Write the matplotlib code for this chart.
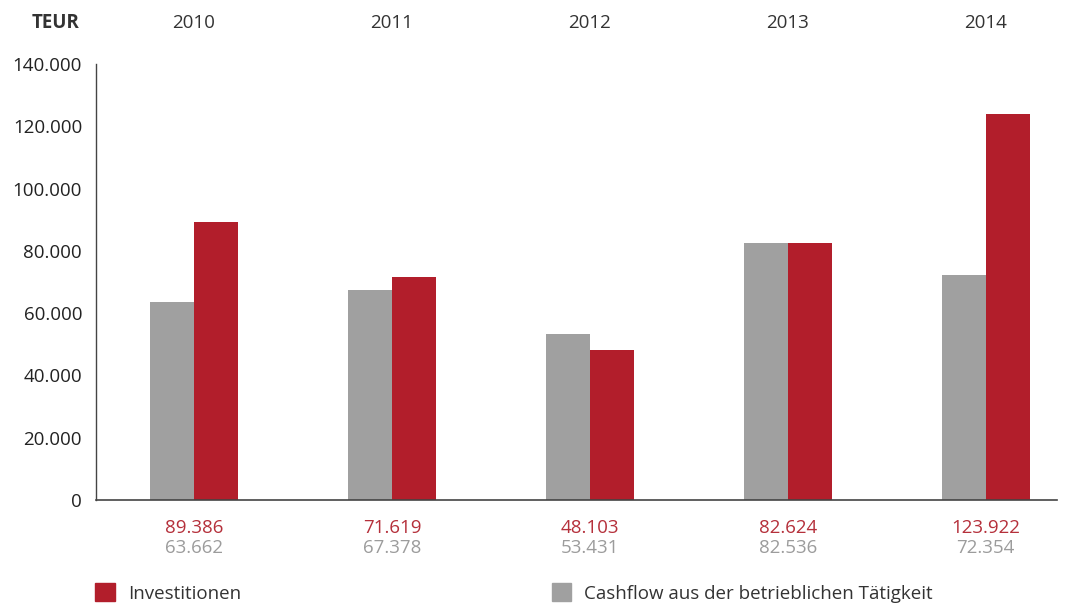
import numpy as np
import matplotlib.pyplot as plt
from matplotlib.patches import Rectangle
from matplotlib.transforms import blended_transform_factory

plt.rcParams['font.family'] = ['Open Sans', 'DejaVu Sans']

# Data (TEUR)
years = ['2010', '2011', '2012', '2013', '2014']
investitionen = [89386, 71619, 48103, 82624, 123922]
cashflow = [63662, 67378, 53431, 82536, 72354]
yticks = [0, 20000, 40000, 60000, 80000, 100000, 120000, 140000]

red = '#b21e2b'
gray = '#a0a0a0'


def fmt(v):
    return f'{v:,}'.replace(',', '.')


fig = plt.figure(figsize=(10.65, 6.06), dpi=100)
ax = fig.add_axes([0.0901, 0.175, 0.9024, 0.719])

x = np.arange(len(years))
w = 0.222
ax.bar(x - w / 2, cashflow, width=w, color=gray)
ax.bar(x + w / 2, investitionen, width=w, color=red)

ax.set_xlim(-0.495, 4.36)
ax.set_ylim(0, 140000)
ax.set_yticks(yticks)
ax.set_yticklabels([fmt(v) for v in yticks], fontsize=13.5, color='#222222')
ax.tick_params(axis='y', length=0, pad=10)
ax.set_xticks([])

for s in ['top', 'right']:
    ax.spines[s].set_visible(False)
ax.spines['left'].set_color('#444444')
ax.spines['bottom'].set_color('#444444')
ax.spines['left'].set_linewidth(1.0)
ax.spines['bottom'].set_linewidth(1.2)

# year labels on top, values below the axis
tr = blended_transform_factory(ax.transData, fig.transFigure)
for i, y in enumerate(years):
    ax.text(i, 1 - 23 / 606, y, transform=tr, ha='center', va='center',
            fontsize=13.5, color='#333333')
    ax.text(i, 1 - 528 / 606, fmt(investitionen[i]), transform=tr,
            ha='center', va='center', fontsize=13.5, color='#b5303b')
    ax.text(i, 1 - 548 / 606, fmt(cashflow[i]), transform=tr,
            ha='center', va='center', fontsize=13.5, color='#9c9c9c')

fig.text(80 / 1065, 1 - 23 / 606, 'TEUR', ha='right', va='center',
         fontsize=13.5, fontweight='bold', color='#333333')

# legend
fig.patches.append(Rectangle((95 / 1065, 1 - 601 / 606), 20 / 1065, 18 / 606,
                             transform=fig.transFigure, color=red))
fig.text(128 / 1065, 1 - 594 / 606, 'Investitionen', ha='left', va='center',
         fontsize=13.5, color='#333333')
fig.patches.append(Rectangle((552 / 1065, 1 - 601 / 606), 19 / 1065, 18 / 606,
                             transform=fig.transFigure, color=gray))
fig.text(584 / 1065, 1 - 594 / 606, 'Cashflow aus der betrieblichen Tätigkeit',
         ha='left', va='center', fontsize=13.5, color='#333333')

fig.savefig('out.png', dpi=100)
